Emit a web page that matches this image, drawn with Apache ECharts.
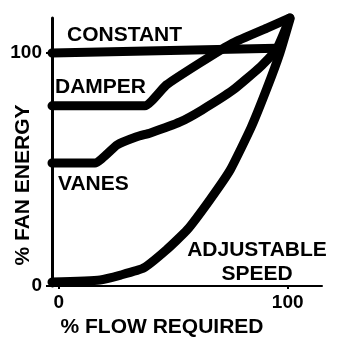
<!DOCTYPE html>
<html><head><meta charset="utf-8">
<script src="https://cdn.jsdelivr.net/npm/echarts@6/dist/echarts.min.js"></script>
<style>html,body{margin:0;padding:0;background:#fff}#c{width:342px;height:340px}</style>
</head><body><div id="c"></div>
<script>
// ---- data ----
const xTicks = [0, 100];
const yTicks = [0, 100];

const constantX = [-3, 95];
const constantY = [100, 102];

const damperX = [-3, 37.6, 47, 61.6, 76, 90.9, 101];
const damperY = [77.3, 77.3, 86.3, 95.7, 104.3, 110.7, 115];

const vanesX = [-3, 15.8, 25.4, 34, 40, 53, 62.5, 76, 88, 95, 101];
const vanesY = [52.8, 52.8, 60.5, 64, 65.7, 70.4, 75.5, 84, 94, 101.3, 115];

const adjX = [-3, 18, 27, 37, 47, 56, 66, 75, 84, 91, 96.6, 101];
const adjY = [1.7, 2.6, 4.7, 7.7, 15.5, 24, 37, 50, 68, 85, 100, 114.5];

const xTitle = '% FLOW REQUIRED';
const yTitle = '% FAN ENERGY';

function zip(xs, ys) { return xs.map((x, i) => [x, ys[i]]); }

const FONT = 'Liberation Sans, Arial, sans-serif';
const lineStyle = { color: '#000', width: 9, cap: 'round', join: 'round' };
function mk(name, xs, ys) {
  return { name, type: 'line', data: zip(xs, ys), symbol: 'none', showSymbol: false,
    lineStyle, clip: false, silent: true, animation: false, smooth: 0.15 };
}
function txt(text, x, y, align, rot) {
  return { type: 'text', x, y, rotation: rot || 0, silent: true,
    style: { text, fill: '#000', font: 'bold 21px ' + FONT, textAlign: align, textVerticalAlign: 'middle' } };
}

const chart = echarts.init(document.getElementById('c'), null, { renderer: 'canvas' });
chart.setOption({
  animation: false,
  backgroundColor: '#fff',
  grid: { left: 52, right: 20, top: 18, bottom: 54, containLabel: false, outerBoundsMode: 'none' },
  xAxis: {
    type: 'value', min: -3, max: 115,
    axisLine: { show: true, onZero: false, lineStyle: { color: '#000', width: 2 } },
    axisTick: { show: true, customValues: xTicks, length: 3, lineStyle: { color: '#000', width: 2 } },
    axisLabel: { customValues: xTicks, color: '#000', fontFamily: FONT, fontWeight: 'bold', fontSize: 19, margin: 7 },
    splitLine: { show: false }
  },
  yAxis: {
    type: 'value', min: 0, max: 115,
    axisLine: { show: true, onZero: false, lineStyle: { color: '#000', width: 3 } },
    axisTick: { show: true, customValues: yTicks, length: 6, lineStyle: { color: '#000', width: 2 } },
    axisLabel: { customValues: yTicks, color: '#000', fontFamily: FONT, fontWeight: 'bold', fontSize: 19, margin: 10 },
    splitLine: { show: false }
  },
  series: [
    mk('CONSTANT', constantX, constantY),
    mk('DAMPER', damperX, damperY),
    mk('VANES', vanesX, vanesY),
    mk('ADJUSTABLE SPEED', adjX, adjY)
  ],
  graphic: [
    txt('CONSTANT', 67, 35, 'left'),
    txt('DAMPER', 55, 87, 'left'),
    txt('VANES', 58, 184, 'left'),
    txt('ADJUSTABLE', 257, 250, 'center'),
    txt('SPEED', 257, 274, 'center'),
    txt(xTitle, 162, 327, 'center'),
    txt(yTitle, 23, 185, 'center', Math.PI / 2)
  ]
});
</script>
</body></html>
